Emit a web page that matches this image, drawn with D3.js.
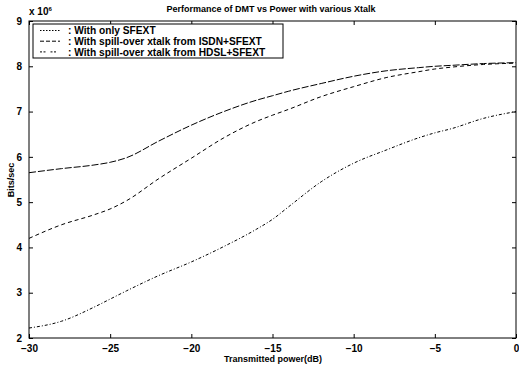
<!DOCTYPE html>
<html><head><meta charset="utf-8">
<script src="https://cdn.jsdelivr.net/npm/d3@7"></script>
<style>body{margin:0;background:#fff}svg{display:block}text{font-family:"Liberation Sans",Arial,sans-serif}</style>
</head><body><svg id="c" width="519" height="366"></svg>
<script>
const power = [-30,-28,-26,-25,-24,-22,-20,-18,-16,-15,-14,-12,-10,-8,-6,-5,-4,-2,0];
const sfextOnly = [5.65,5.74,5.82,5.88,5.98,6.35,6.7,7.0,7.25,7.35,7.45,7.62,7.78,7.9,7.97,8.0,8.02,8.06,8.08];
const isdnSfext = [4.2,4.5,4.72,4.85,5.03,5.52,5.97,6.42,6.78,6.92,7.05,7.33,7.55,7.75,7.88,7.94,7.98,8.04,8.07];
const hdslSfext = [2.22,2.37,2.68,2.86,3.04,3.38,3.68,4.02,4.4,4.62,4.9,5.45,5.86,6.15,6.42,6.53,6.62,6.85,7.0];
const xTicks = [-30,-25,-20,-15,-10,-5,0];
const yTicks = [2,3,4,5,6,7,8,9];
const legendLabels = [": With only SFEXT", ": With spill-over xtalk from ISDN+SFEXT", ": With spill-over xtalk from HDSL+SFEXT"];
const dashes = ["7,2", "4,3", "3,2,1,2"];
const legendDashes = ["1.5,1.5", "4,2", "2,1.5,2,5"];
const title = "Performance of DMT vs Power with various Xtalk";

const svg = d3.select("#c");
const L=29, R=516, T=21, B=338;
const x = d3.scaleLinear().domain([-30,0]).range([L,R]);
const y = d3.scaleLinear().domain([2,9]).range([B,T]);

svg.append("rect").attr("x",L).attr("y",T).attr("width",R-L).attr("height",B-T)
  .attr("fill","none").attr("stroke","#000").attr("stroke-width",1);

const fs = "10px";
const xb = svg.append("g").attr("transform",`translate(0,${B})`)
  .call(d3.axisBottom(x).tickValues(xTicks).tickSize(-4).tickPadding(7).tickFormat(d3.format("d")));
const xt = svg.append("g").attr("transform",`translate(0,${T})`)
  .call(d3.axisTop(x).tickValues(xTicks).tickSize(-4).tickFormat(""));
const yl = svg.append("g").attr("transform",`translate(${L},0)`)
  .call(d3.axisLeft(y).tickValues(yTicks).tickSize(-4).tickPadding(7).tickFormat(d3.format("d")));
const yr = svg.append("g").attr("transform",`translate(${R},0)`)
  .call(d3.axisRight(y).tickValues(yTicks).tickSize(-4).tickFormat(""));
[xb,xt,yl,yr].forEach(g=>{
  g.select(".domain").remove();
  g.selectAll("text").attr("font-size",fs).attr("font-weight","bold").attr("fill","#000")
    .style("font-family","'Liberation Sans',Arial,sans-serif");
  g.selectAll("line").attr("stroke","#000");
});

const line = d3.line().x((d,i)=>x(power[i])).y(d=>y(d)).curve(d3.curveMonotoneX);
[sfextOnly,isdnSfext,hdslSfext].forEach((s,k)=>{
  svg.append("path").datum(s).attr("d",line).attr("fill","none")
    .attr("stroke","#000").attr("stroke-width",1).attr("stroke-dasharray",dashes[k]);
});

const lg = svg.append("g");
lg.append("rect").attr("x",33).attr("y",24).attr("width",250).attr("height",34)
  .attr("fill","#fff").attr("stroke","#000").attr("stroke-width",1);
legendLabels.forEach((t,i)=>{
  const yy = 30.5 + i*10.7;
  lg.append("line").attr("x1",40).attr("x2",60).attr("y1",yy).attr("y2",yy)
    .attr("stroke","#000").attr("stroke-dasharray",legendDashes[i]);
  lg.append("text").attr("x",68).attr("y",yy+3.6).attr("font-size","10.2px").attr("font-weight","bold").text(t);
});

svg.append("text").attr("x",271).attr("y",12).attr("text-anchor","middle")
  .attr("font-size","9px").attr("font-weight","bold").text(title);
svg.append("text").attr("x",273).attr("y",362).attr("text-anchor","middle")
  .attr("font-size","9px").attr("font-weight","bold").text("Transmitted power(dB)");
svg.append("text").attr("transform","translate(14,180) rotate(-90)").attr("text-anchor","middle")
  .attr("font-size","9px").attr("font-weight","bold").text("Bits/sec");
const m = svg.append("text").attr("x",29).attr("y",15).attr("font-size","10px").attr("font-weight","bold");
m.append("tspan").text("x 10");
m.append("tspan").attr("dy",-4).attr("font-size","6px").text("6");
</script></body></html>
